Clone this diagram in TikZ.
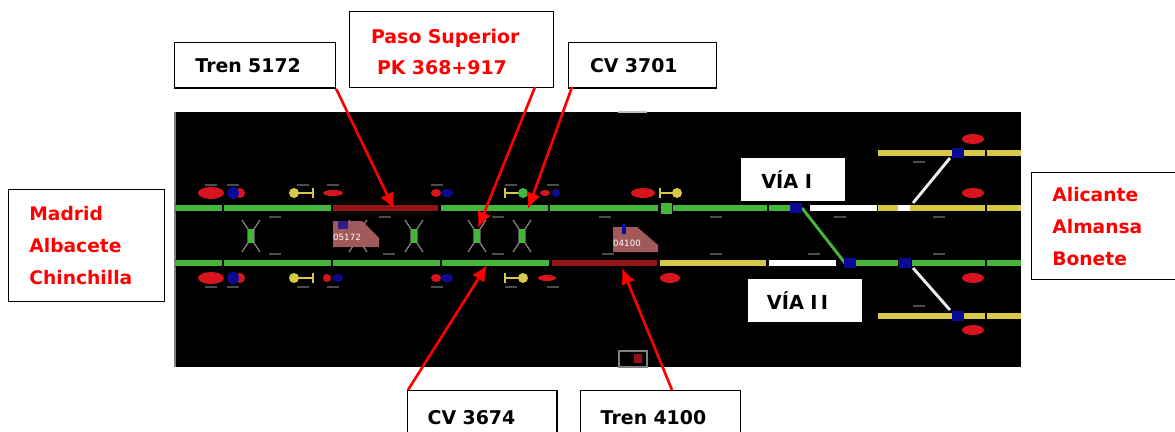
\documentclass[tikz,border=0pt]{standalone}
\usepackage{fontspec}
\usetikzlibrary{arrows.meta}
\setmainfont{DejaVu Sans}
\definecolor{trackgreen}{HTML}{46B53C}
\definecolor{trackred}{HTML}{961414}
\definecolor{trackyellow}{HTML}{D8C848}
\definecolor{lampred}{HTML}{D8141E}
\definecolor{lampblue}{HTML}{0A0A96}
\definecolor{trainpink}{HTML}{A05A5A}
\definecolor{labelred}{HTML}{FF0000}
\begin{document}
\begin{tikzpicture}[
  x=0.75pt, y=-0.75pt,
  callout/.style={draw, line width=1.1pt, fill=white, anchor=north west, align=left, font=\fontsize{14.2}{23}\selectfont\bfseries},
  placename/.style={callout, text=labelred, font=\fontsize{14}{24}\selectfont\bfseries},
  vialabel/.style={fill=white, anchor=north west, align=left, font=\fontsize{14.5}{17}\selectfont\bfseries},
  track/.style={line width=3.8pt, preaction={draw, line width=5.4pt, opacity=.45}},
  pointer/.style={draw=red, line width=2pt, -{Latex[length=12pt,width=11pt]}},
  lamp/.style={fill=lampred, draw=none},
  switchdot/.style={fill=lampblue, draw=none},
  trainshape/.style={fill=trainpink, draw=none},
  crossing/.style={draw=gray, line width=1pt},
  smudge/.style={draw=gray, line width=1.2pt, opacity=.6}
]
\useasboundingbox (0,0) rectangle (1175,432);
% panel
\fill[black] (174,112) rectangle (1021,367);
\draw[gray, line width=1pt] (175,112) -- (175,367);
\draw[lightgray, line width=1pt] (618,112) -- (647,112);
% crossings
\foreach \cx in {251,358,414,477,522} {
  \draw[crossing] (\cx-9,220) -- (\cx-3,229) -- (\cx-3,243) -- (\cx-9,252);
  \draw[crossing] (\cx+9,220) -- (\cx+3,229) -- (\cx+3,243) -- (\cx+9,252);
}
\foreach \cx in {251,414,477,522} {
  \fill[trackgreen] (\cx-3,229) rectangle (\cx+3,243);
}
% trains
\fill[trainshape] (333,221) -- (362,221) -- (379,238) -- (379,247) -- (333,247) -- cycle;
\fill[trainshape] (613,227) -- (637,227) -- (658,245) -- (658,252) -- (613,252) -- cycle;
\fill[lampblue!75!trainpink] (338,221) rectangle (348,229);
\fill[lampblue] (622,224) rectangle (626,234);
\node[white, font=\fontsize{6.5}{7}\selectfont] (train1) at (347,237) {05172};
\node[white, font=\fontsize{6.5}{7}\selectfont] (train2) at (627,243) {04100};
% main tracks
\foreach \xa/\xb/\yy/\col in {
  175/222/208/trackgreen, 224/331/208/trackgreen, 333/438/208/trackred, 441/548/208/trackgreen,
  550/658/208/trackgreen, 673/767/208/trackgreen, 769/790/208/trackgreen, 810/877/208/white,
  878/898/208/trackyellow, 898/910/208/white, 910/985/208/trackyellow, 987/1021/208/trackyellow,
  175/222/263/trackgreen, 224/331/263/trackgreen, 333/440/263/trackgreen, 442/549/263/trackgreen,
  552/657/263/trackred, 660/766/263/trackyellow, 769/836/263/white, 855/898/263/trackgreen,
  912/985/263/trackgreen, 987/1021/263/trackgreen,
  878/985/153/trackyellow, 987/1021/153/trackyellow,
  878/985/316/trackyellow, 987/1021/316/trackyellow} {
  \draw[track, \col] (\xa,\yy) -- (\xb,\yy);
}
\fill[trackgreen] (661,203) rectangle (672,214);
% branches
\draw[trackgreen, line width=2.2pt] (802,208) -- (845,263);
\draw[white!85!gray, line width=2.2pt] (913,203) -- (950,158);
\draw[white!85!gray, line width=2.2pt] (913,268) -- (950,310);
\foreach \px/\py in {796/208,850/263,905/263,958/153,958/316} {
  \fill[switchdot] (\px-6,\py-5) rectangle (\px+6,\py+5);
}
% signals
\foreach \yy in {193,278} {
  \fill[lamp] (211,\yy) ellipse (13 and 6);
  \fill[lamp] (240,\yy) ellipse (5 and 5);
  \fill[lampblue] (233,\yy) ellipse (6 and 6);
  \fill[trackyellow] (294,\yy) circle (5);
  \draw[trackyellow, line width=1.8pt] (294,\yy) -- (313,\yy);
  \draw[trackyellow, line width=1.8pt] (313,\yy-5) -- (313,\yy+5);
  \fill[lamp] (436,\yy) ellipse (5 and 4);
  \fill[lampblue] (447,\yy) ellipse (6 and 4);
}
\fill[lamp] (333,193) ellipse (10 and 3);
\fill[lamp] (327,278) ellipse (4 and 4);
\fill[lampblue] (338,278) ellipse (5 and 4);
\foreach \xa/\xc/\yy/\col in {523/505/193/trackgreen, 523/505/278/trackyellow, 677/660/193/trackyellow} {
  \draw[trackyellow, line width=1.8pt] (\xa,\yy) -- (\xc,\yy);
  \draw[trackyellow, line width=1.8pt] (\xc,\yy-5) -- (\xc,\yy+5);
  \fill[\col] (\xa,\yy) circle (5);
}
\fill[lamp] (545,193) ellipse (5 and 3);
\fill[lampblue] (556,193) ellipse (4 and 4);
\fill[lamp] (547,278) ellipse (9 and 3);
\fill[lamp] (643,193) ellipse (12 and 5);
\fill[lamp] (670,278) ellipse (10 and 5);
\foreach \yy in {139,193,278,330} {
  \fill[lamp] (973,\yy) ellipse (11 and 5);
}
% blurred marks beside the track
\foreach \sx/\sy in {211/185,233/185,303/185,333/185,437/185,511/185,553/185,
  275/217,385/217,498/217,605/217,716/217,
  275/254,389/254,498/254,608/254,716/254,
  211/287,233/287,303/287,333/287,437/287,511/287,553/287,
  919/162,840/217,939/217,814/254,939/254,919/306} {
  \draw[smudge] (\sx-6,\sy) -- (\sx+6,\sy);
}
% small frame
\draw[gray, line width=0.8pt] (619,351) rectangle (647,367);
\fill[lampred!70!black] (634,354) rectangle (642,363);
% callouts
\node[callout, text width=89.5pt, inner xsep=15.5pt, minimum height=34pt] (tren5172) at (174,42) {Tren 5172};
\node[callout, text width=121pt, inner xsep=16pt, minimum height=57pt, text=labelred] (paso) at (349,11) {\rule{0pt}{14pt}Paso Superior\\\hspace*{4.5pt}PK 368+917};
\node[callout, text width=79pt, inner xsep=16pt, minimum height=34pt] (cv3701) at (568,42) {CV 3701};
\node[callout, text width=82pt, inner xsep=15pt, minimum height=40pt] (cv3674) at (407,390) {CV 3674};
\node[callout, text width=90pt, inner xsep=15pt, minimum height=40pt] (tren4100) at (580,390) {Tren 4100};
\node[placename, text width=86pt, inner xsep=15.5pt, minimum height=84pt] (origen) at (8,189) {Madrid\\Albacete\\Chinchilla};
\node[placename, text width=100pt, inner xsep=15.5pt, minimum height=80pt] (destino) at (1031,172) {Alicante\\Almansa\\Bonete};
\node[vialabel, text width=62pt, inner xsep=8pt, minimum height=32pt] (via1) at (741,158) {\hspace*{7pt}VÍA I};
\node[vialabel, text width=69pt, inner xsep=8pt, minimum height=32pt] (via2) at (748,279) {\hspace*{6pt}VÍA I\,I};
% pointers
\coordinate (pasofoot) at (535,87);
\coordinate (cv3701foot) at (572,87);
\coordinate (cv3674foot) at (408,390);
\coordinate (tren4100foot) at (672,390);
\coordinate (redsection) at (394,209);
\coordinate (crossover) at (478,228);
\coordinate (topgreen) at (528,209);
\coordinate (bottomgreen) at (487,265);
\coordinate (bottomred) at (622,268);
\draw[pointer] (tren5172.south east) -- (redsection);
\draw[pointer] (pasofoot) -- (crossover);
\draw[pointer] (cv3701foot) -- (topgreen);
\draw[pointer] (cv3674foot) -- (bottomgreen);
\draw[pointer] (tren4100foot) -- (bottomred);
\end{tikzpicture}
\end{document}
